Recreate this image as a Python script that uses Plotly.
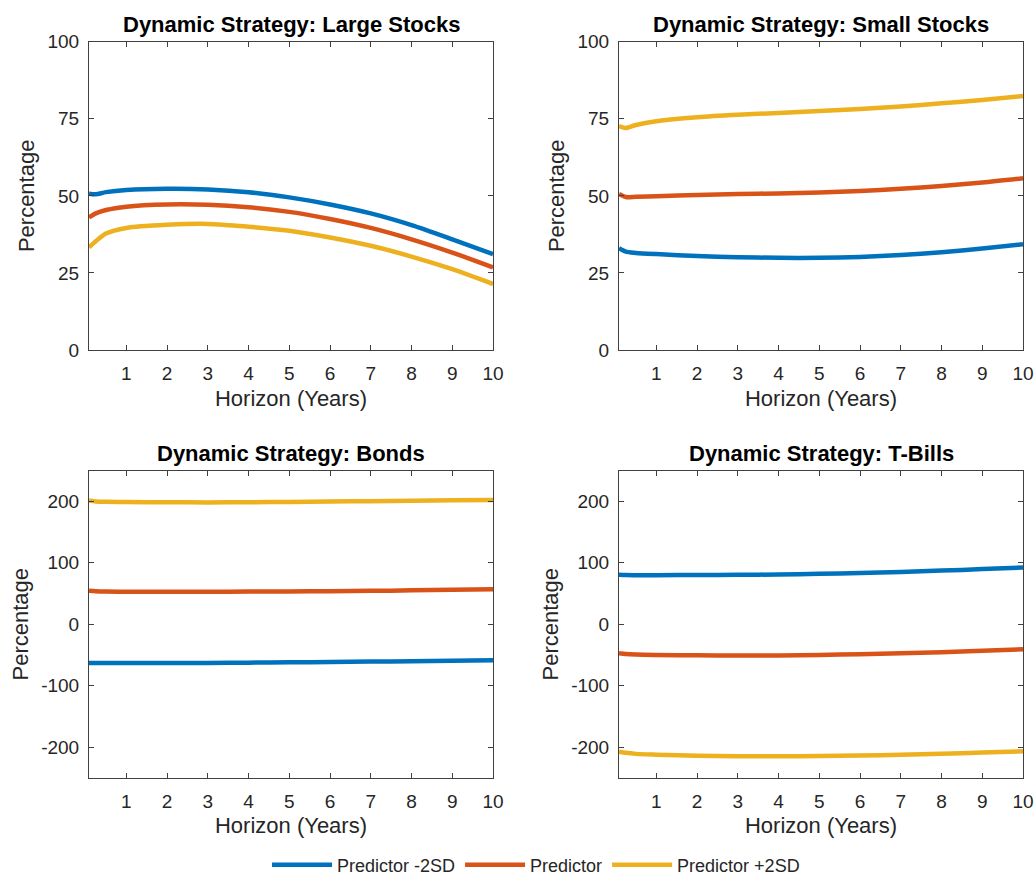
import plotly.graph_objects as go

# ---------------- data ----------------
horizon = [1/12, 0.25, 0.5, 1, 2, 3, 4, 5, 6, 7, 8, 9, 10]

series_names = ["Predictor -2SD", "Predictor", "Predictor +2SD"]
series_colors = ["#0072BD", "#D95319", "#EDB120"]

large_lo = [50.7, 50.5, 51.2, 51.9, 52.3, 52.1, 51.2, 49.5, 47.2, 44.3, 40.5, 35.9, 31.1]
large_mid = [43.0, 44.3, 45.4, 46.5, 47.2, 47.1, 46.3, 44.8, 42.5, 39.6, 35.9, 31.6, 26.8]
large_hi = [33.3, 35.3, 37.8, 39.6, 40.6, 40.9, 40.0, 38.7, 36.5, 33.8, 30.3, 26.2, 21.4]

small_lo = [33.0, 31.9, 31.5, 31.1, 30.5, 30.1, 29.9, 29.9, 30.2, 30.8, 31.7, 32.9, 34.3]
small_mid = [50.6, 49.6, 49.7, 49.9, 50.3, 50.6, 50.8, 51.1, 51.6, 52.3, 53.2, 54.3, 55.7]
small_hi = [72.6, 72.0, 73.0, 74.2, 75.5, 76.3, 76.9, 77.5, 78.2, 79.0, 80.0, 81.1, 82.4]

bonds_lo = [-63.0, -63.2, -63.2, -63.2, -63.1, -63.0, -62.6, -62.1, -61.5, -60.9, -60.2, -59.4, -58.7]
bonds_mid = [54.3, 53.6, 53.1, 52.7, 52.8, 53.0, 53.1, 53.3, 53.7, 54.3, 55.1, 56.0, 57.1]
bonds_hi = [201.6, 200.0, 199.4, 199.0, 198.6, 198.4, 198.7, 199.2, 199.8, 200.4, 201.1, 201.7, 202.2]

tbills_lo = [80.4, 80.0, 79.9, 79.9, 80.0, 80.4, 81.0, 82.0, 83.4, 85.2, 87.3, 89.7, 92.4]
tbills_mid = [-47.3, -48.6, -49.4, -50.0, -50.7, -51.0, -50.8, -50.1, -48.9, -47.4, -45.6, -43.4, -40.8]
tbills_hi = [-207.6, -209.5, -211.2, -212.5, -214.2, -215.0, -215.2, -214.8, -213.9, -212.6, -211.0, -209.1, -207.0]

panel_titles = ["Dynamic Strategy: Large Stocks", "Dynamic Strategy: Small Stocks",
                "Dynamic Strategy: Bonds", "Dynamic Strategy: T-Bills"]
x_ticks = [1, 2, 3, 4, 5, 6, 7, 8, 9, 10]
x_tick_labels = ["1", "2", "3", "4", "5", "6", "7", "8", "9", "10"]
y_ticks_top = [0, 25, 50, 75, 100]
y_tick_labels_top = ["0", "25", "50", "75", "100"]
y_ticks_bottom = [-200, -100, 0, 100, 200]
y_tick_labels_bottom = ["-200", "-100", "0", "100", "200"]
x_label = "Horizon (Years)"
y_label = "Percentage"

panels = [
    (large_lo, large_mid, large_hi),
    (small_lo, small_mid, small_hi),
    (bonds_lo, bonds_mid, bonds_hi),
    (tbills_lo, tbills_mid, tbills_hi),
]

# ---------------- layout geometry ----------------
W, H = 1035, 875
FONT = "Liberation Sans, Arial, Helvetica, sans-serif"
TXT = "#262626"


def px_x(v):
    return v / W


def px_y(v):
    return 1 - v / H


xdoms = [[px_x(89), px_x(493)], [px_x(619), px_x(1023)]]
ydoms = [[px_y(350), px_y(41.7)], [px_y(777.7), px_y(470.7)]]

fig = go.Figure()

for p, vals in enumerate(panels):
    ax = "" if p == 0 else str(p + 1)
    for s in range(3):
        fig.add_trace(go.Scatter(
            x=horizon, y=vals[s], mode="lines",
            line=dict(color=series_colors[s], width=4.5, shape="spline", smoothing=0.8),
            name=series_names[s], legendgroup=series_names[s],
            showlegend=(p == 0),
            xaxis="x" + ax, yaxis="y" + ax,
        ))

axis_common = dict(
    showline=True, linecolor="#404040", linewidth=1, mirror="ticks",
    ticks="inside", ticklen=5, tickwidth=1, tickcolor="#404040",
    showgrid=False, zeroline=False,
    tickfont=dict(family=FONT, size=19, color=TXT),
)

layout = {}
for p in range(4):
    r, c = divmod(p, 2)
    ax = "" if p == 0 else str(p + 1)
    layout["xaxis" + ax] = dict(
        axis_common, domain=xdoms[c], anchor="y" + ax,
        range=[1 / 12, 10], tickvals=x_ticks, ticktext=x_tick_labels,
        ticklabelstandoff=6,
        title=dict(text=x_label, font=dict(family=FONT, size=22, color=TXT), standoff=7),
    )
    layout["yaxis" + ax] = dict(
        axis_common, domain=ydoms[r], anchor="x" + ax,
        range=[0, 100] if r == 0 else [-250, 250],
        tickvals=y_ticks_top if r == 0 else y_ticks_bottom,
        ticktext=y_tick_labels_top if r == 0 else y_tick_labels_bottom,
        ticklabelstandoff=5,
        title=dict(text=y_label, font=dict(family=FONT, size=22, color=TXT), standoff=6),
    )

annotations = []
for p in range(4):
    r, c = divmod(p, 2)
    annotations.append(dict(
        text="<b>" + panel_titles[p] + "</b>",
        xref="paper", yref="paper",
        x=(xdoms[c][0] + xdoms[c][1]) / 2, y=ydoms[r][1],
        xanchor="center", yanchor="bottom", yshift=3, showarrow=False,
        font=dict(family=FONT, size=22, color="#000000"),
    ))

fig.update_layout(
    width=W, height=H,
    margin=dict(l=0, r=0, t=0, b=0, autoexpand=False),
    paper_bgcolor="white", plot_bgcolor="white",
    font=dict(family=FONT, color=TXT),
    annotations=annotations,
    legend=dict(
        orientation="h", x=px_x(536), y=px_y(865), xanchor="center", yanchor="middle",
        font=dict(family=FONT, size=18, color=TXT), itemwidth=60,
        bgcolor="rgba(0,0,0,0)", tracegroupgap=0,
    ),
    **layout,
)

fig.write_html(
    "out.html",
    config={"displayModeBar": False},
    post_script="document.body.style.margin='0px';document.body.style.overflow='hidden';",
)
